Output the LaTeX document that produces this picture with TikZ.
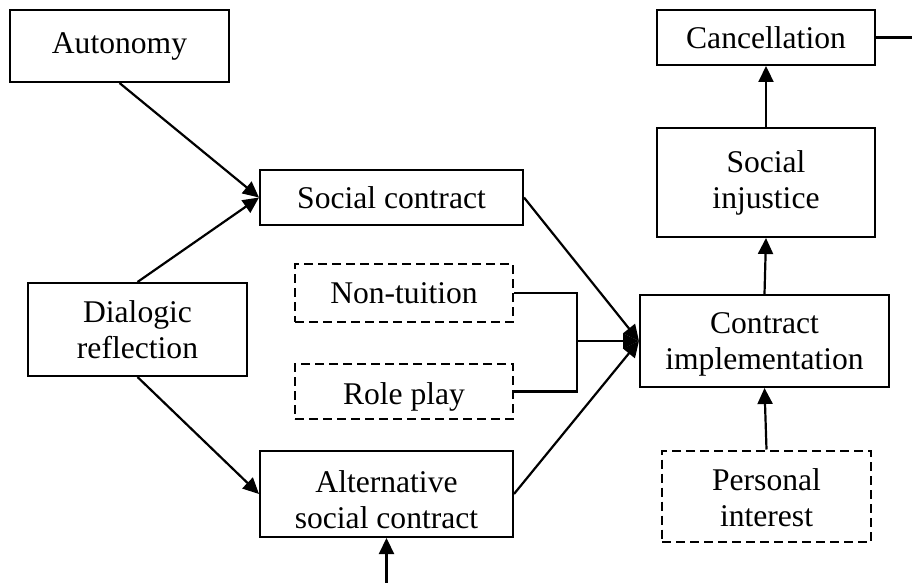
\documentclass[tikz,border=0pt]{standalone}
\usepackage{fontspec}
\setmainfont{Liberation Serif}
\usetikzlibrary{arrows.meta,calc}
\begin{document}
\begin{tikzpicture}[x=1pt,y=-1pt,
  txt/.style={inner sep=0pt,align=center,font=\fontsize{31.6}{36}\selectfont},
  box/.style={draw,line width=2pt,inner sep=0pt,txt},
  dbox/.style={box,dash pattern=on 9pt off 5pt},
  arr/.style={line width=2.2pt,-{Triangle[length=16pt,width=15pt]}},
  ln/.style={line width=2.2pt}]
\useasboundingbox (0,0) rectangle (912,583);
\node[box,minimum width=219pt,minimum height=72pt] (auto) at (119.5,46) {Autonomy};
\node[box,minimum width=263pt,minimum height=55pt] (sc) at (391.5,197.5) {Social contract};
\node[box,minimum width=219pt,minimum height=93pt] (dr) at (137.5,329.5) {Dialogic\\reflection};
\node[dbox,minimum width=218pt,minimum height=58pt] (nt) at (404,293) {Non-tuition};
\node[dbox,minimum width=218pt,minimum height=55pt,
  label={[txt,yshift=-5pt]center:Role play}] (rp) at (404,391.5) {};
\node[box,minimum width=253pt,minimum height=86pt,
  label={[txt,yshift=-6pt]center:{Alternative\\social contract}}] (asc) at (386.5,494) {};
\node[box,minimum width=249pt,minimum height=92pt,
  label={[txt,yshift=-3pt]center:{Contract\\implementation}}] (ci) at (764.5,341) {};
\node[box,minimum width=218pt,minimum height=109pt] (si) at (766,182.5) {Social\\injustice};
\node[box,minimum width=218pt,minimum height=55pt] (can) at (766,37.5) {Cancellation};
\node[dbox,minimum width=209pt,minimum height=91pt,
  label={[txt,yshift=-2pt]center:{Personal\\interest}}] (pi) at (766.5,496) {};
\coordinate (j) at (577,341);
\coordinate (endr) at (912,37.5);
\coordinate (bot) at (386.5,583);
\draw[arr] (auto.south) -- (sc.west);
\draw[arr] (dr.north) -- (sc.west);
\draw[arr] (dr.south) -- (asc.west);
\draw[arr] (sc.east) -- (ci.west);
\draw[arr] (asc.east) -- (ci.west);
\draw[ln] (nt.east) -| (j) |- (rp.east);
\draw[arr] (j) -- (ci.west);
\draw[arr] (ci.north) -- (si.south);
\draw[arr] (si.north) -- (can.south);
\draw[arr] (pi.north) -- (ci.south);
\draw[ln] (can.east) -- (endr);
\draw[arr] (bot) -- (asc.south);
\end{tikzpicture}
\end{document}
